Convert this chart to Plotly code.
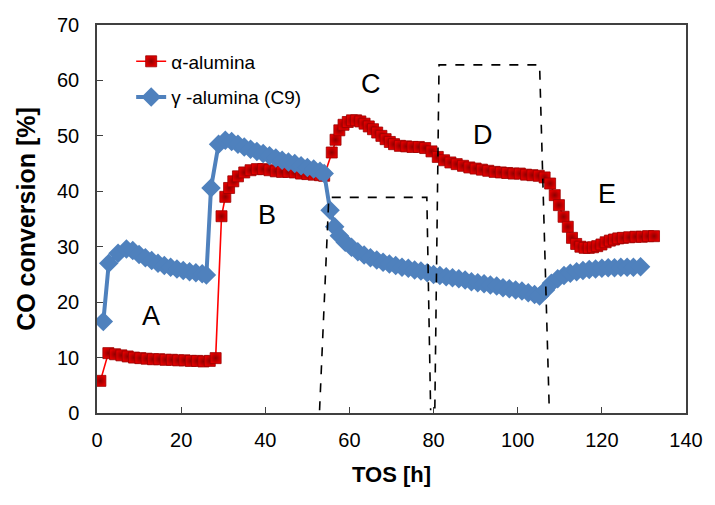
import plotly.graph_objects as go

# Time on stream [h] and CO conversion [%] for the alpha-alumina supported catalyst
alpha_tos = [0.8, 2.7, 4.3, 5.8, 7.3, 8.8, 10.3, 11.8, 13.3, 14.8, 16.3, 17.8, 19.3,
             20.8, 22.3, 23.8, 25.3, 26.8, 28.2,
             29.6, 30.5, 31.4, 32.4, 33.5, 35.0, 36.5, 38.0, 39.5, 41.0, 42.5,
             44.0, 45.5, 47.0, 48.5, 50.0, 51.5, 53.0, 54.0,
             55.8, 56.7, 57.6, 58.6, 59.6, 60.6, 61.6, 62.6, 63.6, 64.6, 65.6,
             66.6, 67.6, 68.6, 69.6, 70.6, 72.0, 73.5, 75.0, 76.5, 78.0, 79.5,
             81.0, 82.5, 84.0, 85.5, 87.0, 88.5, 90.0, 91.5, 93.0, 94.5, 96.0,
             97.5, 99.0, 100.5, 102.0, 103.5, 105.0, 106.4,
             107.7, 108.8, 109.8, 110.9, 111.9, 112.9, 113.9, 114.9, 115.9,
             116.9, 117.9, 118.9, 119.9, 120.9, 121.9, 122.9, 123.9, 125.0,
             126.5, 128.0, 129.5, 131.0, 132.4]
alpha_conv = [5.8, 10.8, 10.6, 10.4, 10.2, 10.0, 9.9, 9.8, 9.7, 9.7, 9.6, 9.6, 9.5,
              9.5, 9.4, 9.4, 9.3, 9.4, 9.9,
              35.5, 39.0, 40.6, 41.8, 42.7, 43.4, 43.8, 44.0, 44.0, 43.8, 43.6,
              43.5, 43.5, 43.4, 43.2, 43.1, 43.0, 42.9, 42.8,
              47.0, 49.3, 51.0, 52.0, 52.5, 52.8, 52.8, 52.6, 52.2, 51.7, 51.2,
              50.6, 50.0, 49.4, 48.9, 48.5, 48.2, 48.1, 48.0, 48.0, 47.8, 47.2,
              46.2, 45.6, 45.2, 44.9, 44.6, 44.3, 44.1, 43.9, 43.7, 43.5, 43.4,
              43.3, 43.2, 43.2, 43.0, 42.9, 42.8, 42.5,
              41.4, 39.3, 37.5, 35.4, 33.6, 31.6, 30.5, 30.0, 29.8,
              29.8, 29.9, 30.1, 30.4, 30.8, 31.1, 31.3, 31.5, 31.6,
              31.7, 31.8, 31.8, 31.9, 31.9]

# Time on stream [h] and CO conversion [%] for the gamma-alumina (C9) catalyst
gamma_tos = [1.5, 2.8, 5.0, 7.0, 8.5, 10.0, 11.5, 13.0, 14.5, 16.0, 17.5, 19.0,
             20.5, 22.0, 23.5, 25.0, 26.0,
             27.1, 28.9, 30.5, 32.0, 33.5, 35.0, 36.5, 38.0, 39.5, 41.0, 42.5,
             44.0, 45.5, 47.0, 48.5, 50.0, 51.5, 53.0, 54.0,
             55.4, 56.5, 57.6, 59.0, 60.5, 62.0, 63.5, 65.0, 66.5, 68.0, 69.5,
             71.0, 72.5, 74.0, 75.5, 77.0, 78.5, 80.0, 81.5, 83.0, 84.5, 86.0,
             87.5, 89.0, 90.5, 92.0, 93.5, 95.0, 96.5, 98.0, 99.5, 101.0, 102.5,
             104.0, 105.2,
             106.6, 108.0, 109.5, 111.0, 112.5, 114.0, 115.5, 117.0, 118.5,
             120.0, 121.5, 123.0, 124.5, 126.0, 127.5, 129.2]
gamma_conv = [16.5, 27.0, 28.8, 29.6, 29.3, 28.6, 28.0, 27.5, 27.0, 26.6, 26.3, 26.0,
              25.7, 25.5, 25.3, 25.1, 24.9,
              40.6, 48.5, 49.2, 49.0, 48.5, 48.0, 47.6, 47.2, 46.8, 46.4, 46.0,
              45.6, 45.3, 45.0, 44.6, 44.3, 44.0, 43.6, 43.2,
              36.6, 33.6, 32.0, 30.8, 29.9, 29.1, 28.5, 28.0, 27.6, 27.2, 26.9,
              26.6, 26.3, 26.1, 25.8, 25.6, 25.3, 25.0, 24.8, 24.6, 24.4, 24.2,
              24.0, 23.7, 23.5, 23.3, 23.1, 22.9, 22.6, 22.4, 22.2, 22.0, 21.7,
              21.4, 21.1,
              22.2, 23.4, 24.2, 24.8, 25.2, 25.5, 25.7, 25.9, 26.0,
              26.1, 26.2, 26.2, 26.3, 26.3, 26.3, 26.4]

# Dashed outlines of the two reaction-condition windows
window_c_tos = [52.9, 55.1, 78.4, 79.3]
window_c_conv = [0.5, 38.9, 38.9, 0.5]
window_d_tos = [80.3, 81.3, 105.2, 107.5]
window_d_conv = [0.8, 62.8, 62.8, 0.5]

# Period labels
period_labels = ["A", "B", "C", "D", "E"]
period_tos = [12.9, 40.3, 65.2, 91.7, 121.3]
period_conv = [17.5, 35.7, 59.4, 50.2, 39.6]

FONT = "Liberation Sans, Arial, sans-serif"

fig = go.Figure()

fig.add_trace(go.Scatter(
    x=alpha_tos, y=alpha_conv, name="α-alumina", mode="lines+markers",
    legendgroup="alpha",
    line=dict(color="#FF0000", width=1.6),
    marker=dict(symbol="square", size=11, color="#E00000",
                gradient=dict(type="radial", color="#8E0000"),
                line=dict(color="#9A0000", width=0.8)),
))

fig.add_trace(go.Scatter(
    x=gamma_tos, y=gamma_conv, name="γ -alumina (C9)", mode="lines+markers",
    legendgroup="gamma",
    line=dict(color="#4F81BD", width=4),
    marker=dict(symbol="diamond", size=15, color="#4F81BD",
                line=dict(color="#4F81BD", width=0)),
))

for wx, wy in ((window_c_tos, window_c_conv), (window_d_tos, window_d_conv)):
    fig.add_trace(go.Scatter(
        x=wx, y=wy, mode="lines", showlegend=False, hoverinfo="skip",
        line=dict(color="black", width=1.6, dash="dash"),
    ))

for lab, tx, ty in zip(period_labels, period_tos, period_conv):
    fig.add_annotation(x=tx, y=ty, text=lab, showarrow=False,
                       font=dict(family=FONT, size=27, color="black"))

axis_common = dict(
    showline=True, linecolor="#404040", linewidth=1.5, mirror=True,
    ticks="inside", ticklen=6, tickcolor="#404040", tickwidth=1.2,
    showgrid=False, zeroline=False,
    tickfont=dict(family=FONT, size=20, color="black"),
)

fig.update_xaxes(range=[0, 140], dtick=20, ticklabelstandoff=8, **axis_common,
                 title=dict(text="<b>TOS [h]</b>", standoff=17,
                            font=dict(family=FONT, size=22, color="black")))
fig.update_yaxes(range=[0, 70], dtick=10, ticklabelstandoff=12, **axis_common,
                 title=dict(text="<b>CO conversion [%]</b>", standoff=14,
                            font=dict(family=FONT, size=25, color="black")))

fig.update_layout(
    width=715, height=505,
    margin=dict(l=97, r=23, t=25, b=92),
    plot_bgcolor="white", paper_bgcolor="white",
    legend=dict(x=0.058, y=0.955, xanchor="left", yanchor="top",
                bgcolor="rgba(0,0,0,0)", tracegroupgap=8,
                font=dict(family=FONT, size=19, color="black")),
)

fig.write_html("out.html")
